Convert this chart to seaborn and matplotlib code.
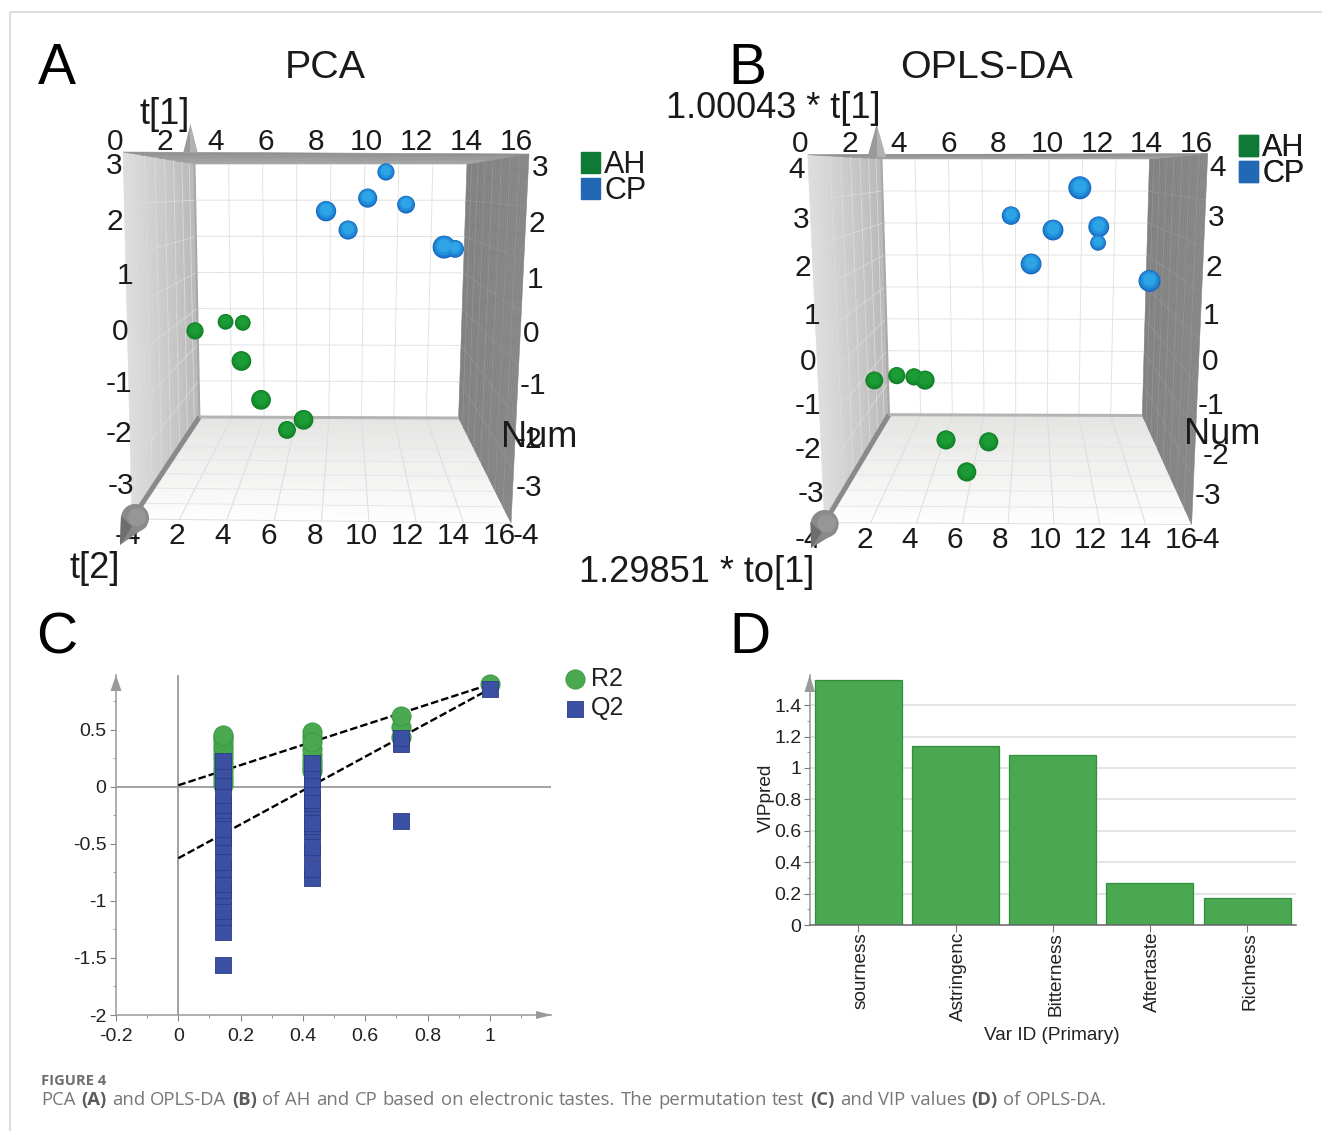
import numpy as np, pandas as pd
import matplotlib
matplotlib.use("Agg")
import matplotlib.pyplot as plt
import matplotlib.transforms as mtrans
from matplotlib.patches import Patch, Polygon, Circle
from matplotlib.lines import Line2D
import seaborn as sns

# ---------- data ----------
pca_blue_t2 = [11.22, 10.15, 7.71, 12.40, 9.00, 15.27, 14.63]
pca_blue_t1 = [2.78, 2.06, 1.70, 1.88, 1.18, 0.66, 0.71]
pca_blue_num = [4, 7, 9, 5, 7, 5, 14]
pca_green_t2 = [0.03, 1.82, 2.83, 2.75, 3.90, 6.39, 5.42]
pca_green_t1 = [-1.60, -1.35, -1.38, -2.43, -3.50, -4.05, -4.33]
pca_green_num = [4, 2, 2, 8, 8, 8, 5]

opls_blue_to = [11.84, 7.73, 10.24, 12.93, 12.97, 8.93, 16.00]
opls_blue_t = [3.10, 2.23, 1.78, 1.38, 1.88, 0.72, 0.19]
opls_blue_num = [14, 6, 10, 2, 10, 10, 12]
opls_green_to = [-0.43, 0.91, 1.94, 2.60, 3.85, 6.40, 5.09]
opls_green_t = [-2.92, -2.77, -2.81, -2.91, -4.78, -4.84, -5.78]
opls_green_num = [5, 4, 4, 7, 7, 7, 7]

perm_x = [0.143, 0.429, 0.714, 1.0]
r2_groups = [
    [0.02, 0.05, 0.09, 0.13, 0.17, 0.21, 0.25, 0.29, 0.33, 0.37, 0.41, 0.44, 0.46],
    [0.14, 0.17, 0.20, 0.24, 0.28, 0.33, 0.44, 0.48, 0.39],
    [0.44, 0.53, 0.62],
    [0.90],
]
q2_groups = [
    [-1.56, -1.27, -1.14, -1.09, -0.96, -0.90, -0.85, -0.72, -0.66, -0.52, -0.44, -0.365, -0.225, -0.20, -0.16,
     -0.07, 0.05, 0.146, 0.225],
    [-0.80, -0.72, -0.57, -0.53, -0.39, -0.34, -0.32, -0.18, -0.137, -0.117, 0.0, 0.07, 0.146, 0.21],
    [-0.30, 0.38, 0.43],
    [0.86],
]
r2_line_y = [0.015, 0.90]
q2_line_y = [-0.625, 0.86]
line_x = [0.0, 1.0]
perm_xticks = [-0.2, 0, 0.2, 0.4, 0.6, 0.8, 1]
perm_xlabels = ["-0.2", "0", "0.2", "0.4", "0.6", "0.8", "1"]
perm_yticks = [-2, -1.5, -1, -0.5, 0, 0.5]
perm_ylabels = ["-2", "-1.5", "-1", "-0.5", "0", "0.5"]

vip_vars = ["sourness", "Astringenc", "Bitterness", "Aftertaste", "Richness"]
vip_vals = [1.56, 1.14, 1.083, 0.27, 0.17]
vip_yticks = [0, 0.2, 0.4, 0.6, 0.8, 1, 1.2, 1.4]
vip_ylabels = ["0", "0.2", "0.4", "0.6", "0.8", "1", "1.2", "1.4"]

caption_head = "FIGURE 4"
caption_words = [("PCA", 0), ("(A)", 1), ("and", 0), ("OPLS-DA", 0), ("(B)", 1), ("of", 0), ("AH", 0), ("and", 0),
                 ("CP", 0), ("based", 0), ("on", 0), ("electronic", 0), ("tastes.", 0), ("The", 0),
                 ("permutation", 0), ("test", 0), ("(C)", 1), ("and", 0), ("VIP", 0), ("values", 0), ("(D)", 1),
                 ("of", 0), ("OPLS-DA.", 0)]

# ---------- set-up ----------
W, H = 1322, 1131
sns.set_theme(style="white")
plt.rcParams["font.family"] = ["Liberation Sans", "DejaVu Sans"]
fig = plt.figure(figsize=(W / 100, H / 100), dpi=100)
TXT = "#1a1a1a"

ov = fig.add_axes([0, 0, 1, 1], zorder=0)
ov.set_xlim(0, W); ov.set_ylim(H, 0); ov.axis("off")


def ax_px(l, t, r, b):
    a = fig.add_axes([l / W, 1 - b / H, (r - l) / W, (b - t) / H], zorder=2)
    a.patch.set_visible(False)
    return a


def lerp(a, b, t):
    return (a[0] + (b[0] - a[0]) * t, a[1] + (b[1] - a[1]) * t)


def shade(p0, p1, p2, p3, c0, c1, n=30):
    """quad with gradient from edge p0-p3 to edge p1-p2"""
    c0, c1 = np.array(matplotlib.colors.to_rgb(c0)), np.array(matplotlib.colors.to_rgb(c1))
    for i in range(n):
        a, b = i / n, (i + 1) / n
        col = c0 + (c1 - c0) * (i + .5) / n
        ov.add_patch(Polygon([lerp(p0, p1, a), lerp(p0, p1, b), lerp(p3, p2, b), lerp(p3, p2, a)],
                             closed=True, fc=col, ec=col, lw=0.4, zorder=1))


def seg(a, b, c, lw, z=2):
    ov.add_line(Line2D([a[0], b[0]], [a[1], b[1]], color=c, lw=lw * .72, zorder=z, solid_capstyle="butt"))


def box(oTL, oTR, wTL, wTR, wBR, wBL, fBL, fBR, nrows, cone_up, cone_front):
    shade(wBL, fBL, fBR, wBR, "#e4e4e2", "#fefefe")                # floor
    shade(wTL, oTL, fBL, wBL, "#b8b8b8", "#dedede")                # left wall
    shade(wTR, oTR, fBR, wBR, "#808080", "#868686")                # right wall
    shade(wTL, oTL, oTR, wTR, "#a6a6a6", "#8e8e8e", n=8)           # top band
    ts = [(k / 8) ** 1.25 for k in range(1, 8)]
    for i in range(1, 8):
        seg(lerp(wTL, wTR, i / 8), lerp(wBL, wBR, i / 8), "#e3e3e3", 1)
        seg(lerp(wBL, wBR, i / 8), lerp(fBL, fBR, i / 8), "#dcdcdc", 1)
    for j in range(1, nrows):
        f = j / nrows
        seg(lerp(wTL, wBL, f), lerp(wTR, wBR, f), "#e3e3e3", 1)
        seg(lerp(wTL, wBL, f), lerp(oTL, fBL, f), "#dddddd", .7)
        seg(lerp(wTR, wBR, f), lerp(oTR, fBR, f), "#959595", .7)
    for t in ts:
        seg(lerp(wBL, fBL, t), lerp(wBR, fBR, t), "#e6e6e6", 1)
        seg(lerp(wTL, oTL, t), lerp(wBL, fBL, t), "#dddddd", .7)
        seg(lerp(wTR, oTR, t), lerp(wBR, fBR, t), "#959595", .7)
    seg(fBL, fBR, "#dddddd", 1)
    seg(wBL, fBL, "#8a8a8a", 5, 3)
    seg(wBL, wBR, "#b4b4b4", 3, 3)
    seg(wTL, wBL, "#a8a8a8", 2, 3)
    # axis arrows
    apex, hw, base = cone_up
    ov.add_patch(Polygon([apex, (apex[0] - hw, base), (apex[0] + hw, base)], fc="#9a9a9a", ec="none", zorder=4))
    ov.add_patch(Polygon([apex, (apex[0], base), (apex[0] + hw, base)], fc="#b2b2b2", ec="none", zorder=4))
    c, r, tip = cone_front
    ov.add_patch(Polygon([(c[0] - r, c[1] - 2), (c[0] + r * .85, c[1] + r * .6), tip], fc="#858585", ec="none", zorder=6))
    ov.add_patch(Circle(c, r, fc="#8a8a8a", ec="none", zorder=6))
    ov.add_patch(Circle((c[0] + r * .15, c[1] - r * .05), r * .65, fc="#969696", ec="none", zorder=6))
    ov.add_patch(Polygon([(c[0] - r, c[1] - 2), (c[0] - r * .2, c[1] + r * .6), tip], fc="#6e6e6e", ec="none", zorder=6))


def labels3d(items, size=21.5, dy=2.5):
    for s, x, y in items:
        ov.text(x, y + dy, s, fontsize=size, color=TXT, ha="center", va="center", zorder=5)


def spheres(ax, x, y, num, shades):
    df = pd.DataFrame({"x": x, "y": y, "num": num}).sort_values("num")
    lo, hi = 117.0, 298.0
    fracs = [(1.0, 0), (0.86, 0.4), (0.62, 0.9), (0.34, 1.4)]
    for (frac, dy), col in zip(fracs, shades):
        tr = mtrans.offset_copy(ax.transData, fig=fig, x=0, y=dy, units="dots")
        sns.scatterplot(data=df, x="x", y="y", size="num", sizes=(lo * frac, hi * frac), size_norm=(1, 16),
                        color=col, linewidth=0, legend=False, ax=ax, clip_on=False, transform=tr,
                        zorder=3 + (1 - frac))
    ax.set_xlim(0, 16)
    ax.axis("off")


BLUES = ["#1766b8", "#1c7cd0", "#2390dc", "#2da4e6"]
GREENS = ["#0f7c26", "#13892b", "#179430", "#1c9c36"]


def square_legend(anchor):
    hs = [Patch(fc="#0f7a35", ec="#0f7a35", label="AH"), Patch(fc="#2268b4", ec="#2268b4", label="CP")]
    leg = ov.legend(handles=hs, loc="upper left", bbox_to_anchor=anchor, bbox_transform=ov.transData,
                    frameon=False, fontsize=22, borderpad=0, borderaxespad=0, handlelength=0.62,
                    handleheight=0.66, handletextpad=0.14, labelspacing=-0.13, labelcolor=TXT)
    leg.set_zorder(7)
    ov.add_artist(leg)


# ---------- panel A ----------
box((123, 152), (529, 154), (194.5, 164), (467, 164), (458.6, 418), (199.4, 417), (132, 519), (511, 523), 7,
    ((190.4, 124), 7, 152), ((135, 518), 14, (120, 545)))
axA = ax_px(194.5, 164, 467.5, 418)
axA.set_ylim(-4, 3)
spheres(axA, pca_blue_t2, pca_blue_t1, pca_blue_num, BLUES)
axA.set_ylim(-4, 3)
spheres(axA, pca_green_t2, pca_green_t1, pca_green_num, GREENS)
axA.set_ylim(-4, 3)
labels3d([(str(2 * i), 115 + 50.2 * i, 140) for i in range(9)])
labels3d([(str(2 * i), 177 + 46.0 * (i - 1), 534) for i in range(1, 9)])
labels3d([("-4", 128, 534), ("-4", 526, 534)])
labels3d([("3", 114, 164), ("2", 115, 220), ("1", 125, 274), ("0", 120, 329), ("-1", 119, 381), ("-2", 119, 432),
          ("-3", 121, 483)])
labels3d([("3", 540, 166), ("2", 537, 222), ("1", 535, 277), ("0", 531, 331), ("-1", 533, 384), ("-2", 529, 437),
          ("-3", 529, 486)])
labels3d([("Num", 539, 435), ("t[1]", 165, 112), ("t[2]", 95, 566)], 26)
labels3d([("PCA", 325.5, 66)], 28.4)
square_legend((581, 150))

# ---------- panel B ----------
box((807.7, 154.7), (1207.7, 153.6), (881.5, 159), (1149.5, 159), (1142.3, 415.5), (889, 414.7), (824.6, 522.7),
    (1191.6, 524.5), 8, ((876.5, 124.5), 9, 157), ((824.6, 524), 14, (811, 548)))
axB = ax_px(881.5, 159, 1149.5, 415)
axB.set_ylim(-4, 4)
spheres(axB, opls_blue_to, opls_blue_t, opls_blue_num, BLUES)
axB.set_ylim(-4, 4)
spheres(axB, opls_green_to, opls_green_t, opls_green_num, GREENS)
axB.set_ylim(-4, 4)
labels3d([(str(2 * i), 800 + 49.5 * i, 141) for i in range(9)])
labels3d([(str(2 * i), 864.6 + 45.2 * (i - 1), 537) for i in range(1, 9)])
labels3d([("-4", 808, 537), ("-4", 1207, 537)])
labels3d([("4", 797, 167), ("3", 801, 217), ("2", 803, 265), ("1", 812, 313), ("0", 808, 360), ("-1", 808, 404),
          ("-2", 808, 448), ("-3", 811, 492)])
labels3d([("4", 1218, 165), ("3", 1216, 216), ("2", 1214, 265), ("1", 1211, 313), ("0", 1210, 360), ("-1", 1211, 404),
          ("-2", 1216, 453), ("-3", 1208, 494)])
labels3d([("Num", 1222, 432), ("1.00043 * t[1]", 773.5, 106), ("1.29851 * to[1]", 697, 570)], 26)
labels3d([("OPLS-DA", 987, 66)], 28.4)
square_legend((1239, 133))

# ---------- panel C ----------
axC = ax_px(116, 675, 551, 1015)
r2_df = pd.DataFrame({"x": np.repeat(perm_x, [len(g) for g in r2_groups]), "y": np.concatenate(r2_groups)})
q2_df = pd.DataFrame({"x": np.repeat(perm_x, [len(g) for g in q2_groups]), "y": np.concatenate(q2_groups)})
axC.axhline(0, color="#9a9a9a", lw=1.3, zorder=1)
axC.axvline(0, color="#9a9a9a", lw=1.3, zorder=1)
sns.lineplot(x=line_x, y=r2_line_y, color="black", lw=1.7, ls=(0, (3.2, 1.3)), ax=axC, zorder=2, legend=False, errorbar=None)
sns.lineplot(x=line_x, y=q2_line_y, color="black", lw=1.7, ls=(0, (3.2, 1.3)), ax=axC, zorder=2, legend=False, errorbar=None)
sns.scatterplot(data=r2_df, x="x", y="y", marker="o", s=190, color="#4aa84f", edgecolor="#3c9a45", linewidth=0.7,
                ax=axC, zorder=3, clip_on=False, label="R2")
sns.scatterplot(data=q2_df, x="x", y="y", marker="s", s=136, color="#3b4fa3", edgecolor="#2c3c88", linewidth=0.6,
                ax=axC, zorder=4, clip_on=False, label="Q2")
axC.set_xlim(-0.2, 1.196)
axC.set_ylim(-2, 0.982)
axC.set_xticks(perm_xticks, perm_xlabels)
axC.set_yticks(perm_yticks, perm_ylabels)
axC.set_xticks(np.arange(-0.1, 1.15, 0.2), minor=True)
axC.set_yticks(np.arange(-1.75, 0.9, 0.5), minor=True)
axC.set_xlabel(""); axC.set_ylabel("")
axC.tick_params(axis="both", which="major", direction="out", length=4, width=0.8, color="#888888", labelsize=14,
                labelcolor="#222222", left=True, bottom=True)
axC.tick_params(axis="x", which="major", pad=5.5)
axC.tick_params(axis="y", which="major", pad=3)
axC.tick_params(axis="both", which="minor", direction="out", length=2.5, width=0.7, color="#999999", left=True, bottom=True)
sns.despine(ax=axC)
for s in ("left", "bottom"):
    axC.spines[s].set_color("#999999"); axC.spines[s].set_linewidth(1.1)
legC = axC.legend(loc="upper left", bbox_to_anchor=(562.5, 667), bbox_transform=ov.transData, frameon=False, fontsize=18,
                  borderpad=0, borderaxespad=0, handlelength=1.0, handletextpad=0.14, labelspacing=0.22,
                  labelcolor="#222222")
ov.add_patch(Polygon([(116, 675), (110.5, 691), (121.5, 691)], fc="#999999", ec="none", zorder=3))
ov.add_patch(Polygon([(552, 1015), (536, 1011), (536, 1019)], fc="#999999", ec="none", zorder=3))

# ---------- panel D ----------
axD = ax_px(809.7, 675, 1295.7, 925)
axD.set_axisbelow(True)
sns.barplot(x=vip_vars, y=vip_vals, color="#4aa850", saturation=1, width=0.895, edgecolor="#2f8f3e", linewidth=0.9, ax=axD)
axD.set_xlim(-0.5, 4.5)
axD.set_ylim(0, 1.592)
axD.set_yticks(vip_yticks, vip_ylabels)
axD.set_yticks(np.arange(0.1, 1.5, 0.2), minor=True)
axD.yaxis.grid(True, which="major", color="#e4e4e4", lw=1.4)
axD.xaxis.grid(False)
axD.tick_params(axis="y", which="major", direction="out", length=4, width=0.8, color="#777777", labelsize=14,
                labelcolor="#222222", pad=2, left=True)
axD.tick_params(axis="y", which="minor", direction="out", length=2.5, width=0.7, color="#999999", left=True)
axD.tick_params(axis="x", which="major", direction="out", length=5, width=0.8, color="#777777", labelsize=13.7,
                labelcolor="#222222", pad=0, labelrotation=90, bottom=True)
shift = mtrans.ScaledTranslation(3 / 100, 0, fig.dpi_scale_trans)
for lab in axD.get_xticklabels():
    lab.set_transform(lab.get_transform() + shift)
sns.despine(ax=axD)
axD.spines["left"].set_color("#999999"); axD.spines["left"].set_linewidth(1.1)
axD.spines["bottom"].set_color("#666666"); axD.spines["bottom"].set_linewidth(1.1)
axD.set_xlabel(""); axD.set_ylabel("")
ov.text(1052, 1036, "Var ID (Primary)", fontsize=13.7, color="#222222", ha="center", va="center")
ov.text(766, 798, "VIPpred", fontsize=13.7, color="#222222", ha="center", va="center", rotation=90)
ov.add_patch(Polygon([(809.7, 675), (804.5, 692), (815, 692)], fc="#999999", ec="none", zorder=3))

# ---------- letters, frame, caption ----------
for s, x, y in [("A", 57, 69), ("B", 747, 69), ("C", 57, 638), ("D", 750, 638)]:
    ov.text(x, y, s, fontsize=41, color="black", ha="center", va="center", zorder=8)
seg((9.5, 11.5), (W, 11.5), "#d2d2d2", 1.5)
seg((9.5, 11.5), (9.5, H), "#d2d2d2", 1.5)

ov.text(41, 1081, caption_head, fontsize=10.6, fontweight="bold", family="Open Sans", color="#6e6e6e", ha="left",
        va="center")
fig.canvas.draw()
rend = fig.canvas.get_renderer()
arts = []
for w, b in caption_words:
    arts.append(ov.text(41, 1100, w, fontsize=13.3, family="Open Sans", fontweight="bold" if b else "normal",
                        color="#5a5a5a" if b else "#777777", ha="left", va="center"))
widths = [a.get_window_extent(rend).width for a in arts]
gap = (1107 - 41 - sum(widths)) / (len(arts) - 1)
x = 41.0
for a, w in zip(arts, widths):
    a.set_x(x)
    x += w + gap

fig.savefig("out.png", dpi=100)
